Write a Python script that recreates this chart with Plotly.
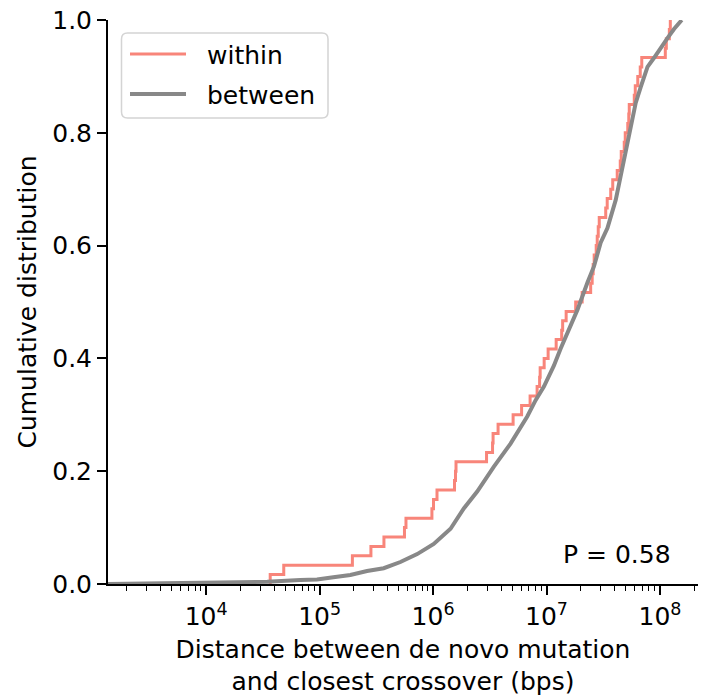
import plotly.graph_objects as go

# ---- data ----
# sorted distances (bps) for "within" (n = 60), empirical CDF steps
within_dist = [
    36700, 48300, 194500, 283300, 369000, 559700, 577000, 977000, 1009000, 1083000,
    1545000, 1577000, 1593000, 2960000, 3343000, 3380000, 3741000, 5075000, 6030000, 7165000,
    8260000, 8690000, 8790000, 9530000, 10330000, 12160000, 13600000, 13870000, 14890000, 18070000,
    20610000, 24490000, 25250000, 25770000, 26300000, 27400000, 27980000, 28560000, 29150000, 33240000,
    34260000, 36800000, 38330000, 41990000, 44650000, 45560000, 48420000, 49410000, 52000000, 53070000,
    53600000, 59340000, 60550000, 63690000, 66990000, 69080000, 111400000, 113700000, 120900000, 123300000,
]

# "between" cumulative distribution
between_dist = [
    1365, 3930, 10000, 24430, 34510, 67610, 94840, 132100, 186600, 261800,
    367300, 515200, 724400, 1014000, 1426000, 1866000, 2449000, 3436000, 4819000, 6761000,
    8017000, 9484000, 10870000, 11610000, 13300000, 15280000, 17460000, 18710000, 22910000, 26180000,
    29990000, 34430000, 40740000, 46200000, 52700000, 57150000, 61090000, 67610000, 77620000,
    88720000, 101600000, 116400000, 133000000, 152400000, 155600000,
]
between_cdf = [
    0.000, 0.001, 0.002, 0.0023, 0.004, 0.007, 0.008, 0.012, 0.016, 0.023,
    0.028, 0.039, 0.053, 0.071, 0.098, 0.134, 0.164, 0.208, 0.249, 0.297,
    0.326, 0.350, 0.374, 0.387, 0.417, 0.445, 0.468, 0.486, 0.534, 0.563,
    0.605, 0.631, 0.681, 0.734, 0.787, 0.823, 0.853, 0.881, 0.917,
    0.933, 0.949, 0.968, 0.984, 0.998, 1.000,
]

series_names = ["within", "between"]
series_colors = ["#F8857A", "#888888"]
x_tick_vals = [1e4, 1e5, 1e6, 1e7, 1e8]
x_tick_text = ["10<sup>4</sup>", "10<sup>5</sup>", "10<sup>6</sup>", "10<sup>7</sup>", "10<sup>8</sup>"]
y_tick_vals = [0.0, 0.2, 0.4, 0.6, 0.8, 1.0]
y_tick_text = ["0.0", "0.2", "0.4", "0.6", "0.8", "1.0"]
p_label = "P = 0.58"

# ---- build figure ----
n = len(within_dist)
w_x = [within_dist[0]] + within_dist
w_y = [0.0] + [(i + 1) / n for i in range(n)]

FONT = "DejaVu Sans"
FS = 25
W, H = 705, 698
ML, MR, MT, MB = 108, 7, 20, 114
PW, PH = W - ML - MR, H - MT - MB


def px(xp):
    return (xp - ML) / PW


def py(yp):
    return (H - MB - yp) / PH


fig = go.Figure()
fig.add_trace(go.Scatter(
    x=w_x, y=w_y, mode="lines", name=series_names[0], showlegend=False,
    line=dict(color=series_colors[0], width=3, shape="hv"),
))
fig.add_trace(go.Scatter(
    x=between_dist, y=between_cdf, mode="lines", name=series_names[1], showlegend=False,
    line=dict(color=series_colors[1], width=4),
))

minor_vals = []
for e in range(3, 9):
    for m in range(2, 10):
        minor_vals.append(m * 10 ** e)

fig.update_layout(
    width=W, height=H,
    margin=dict(l=ML, r=MR, t=MT, b=MB),
    paper_bgcolor="white", plot_bgcolor="white",
    font=dict(family=FONT, size=FS, color="black"),
    showlegend=False,
)

fig.update_xaxes(
    type="log", range=[3.135, 8.335],
    tickmode="array", tickvals=x_tick_vals, ticktext=x_tick_text,
    ticks="outside", ticklen=9, tickwidth=1.6, tickcolor="black",
    showline=True, linecolor="black", linewidth=2,
    showgrid=False, zeroline=False, mirror=False,
    tickfont=dict(family=FONT, size=FS, color="black"),
    minor=dict(ticks="outside", ticklen=5, tickwidth=1.2, tickcolor="black",
               tickmode="array", tickvals=minor_vals, showgrid=False),
    title=dict(text="Distance between de novo mutation<br>and closest crossover (bps)",
               font=dict(family=FONT, size=FS, color="black"), standoff=10),
)
fig.update_yaxes(
    range=[0, 1],
    tickmode="array", tickvals=y_tick_vals, ticktext=y_tick_text,
    ticks="outside", ticklen=9, tickwidth=1.6, tickcolor="black",
    showline=True, linecolor="black", linewidth=2,
    showgrid=False, zeroline=False, mirror=False,
    tickfont=dict(family=FONT, size=FS, color="black"),
    title=dict(text="Cumulative distribution",
               font=dict(family=FONT, size=FS, color="black"), standoff=8),
)

# ---- legend drawn as a rounded box with line samples and text ----
bx0, bx1, by0, by1, r = 121.5, 328.0, 33.0, 118.0, 6.0
rx, ry = r / PW, r / PH
X0, X1, Y0, Y1 = px(bx0), px(bx1), py(by1), py(by0)
path = (
    f"M {X0 + rx},{Y0} L {X1 - rx},{Y0} Q {X1},{Y0} {X1},{Y0 + ry} "
    f"L {X1},{Y1 - ry} Q {X1},{Y1} {X1 - rx},{Y1} "
    f"L {X0 + rx},{Y1} Q {X0},{Y1} {X0},{Y1 - ry} "
    f"L {X0},{Y0 + ry} Q {X0},{Y0} {X0 + rx},{Y0} Z"
)
fig.add_shape(type="path", path=path, xref="paper", yref="paper",
              line=dict(color="#d4d4d4", width=1.5), fillcolor="rgba(255,255,255,0.85)",
              layer="above")
legend_rows = [54, 94]
for name, color, row, lw in zip(series_names, series_colors, legend_rows, [3, 4]):
    fig.add_shape(type="line", xref="paper", yref="paper",
                  x0=px(130), x1=px(186), y0=py(row), y1=py(row),
                  line=dict(color=color, width=lw), layer="above")
    fig.add_annotation(text=name, xref="paper", yref="paper",
                       x=px(205), y=py(row + 1), xanchor="left", yanchor="middle",
                       showarrow=False, font=dict(family=FONT, size=FS, color="black"))

fig.add_annotation(
    text=p_label, xref="paper", yref="paper", x=0.958, y=0.052,
    xanchor="right", yanchor="middle", showarrow=False,
    font=dict(family=FONT, size=FS, color="black"),
)

fig.write_html("out.html")
